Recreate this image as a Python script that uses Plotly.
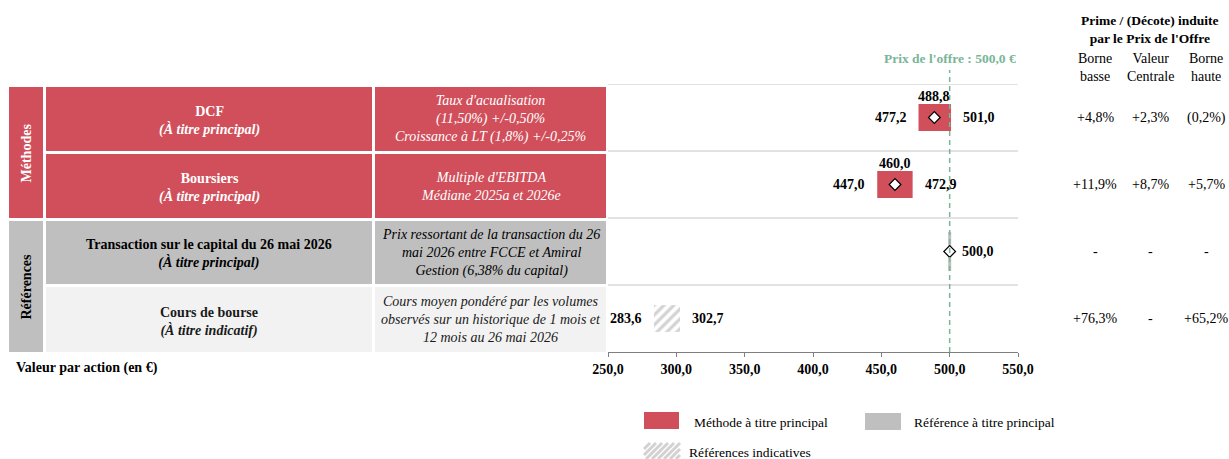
import plotly.graph_objects as go

# ---------------- data ----------------
row_titles = ["DCF", "Boursiers", "Transaction sur le capital du 26 mai 2026", "Cours de bourse"]
row_subtitles = ["(À titre principal)", "(À titre principal)", "(À titre principal)", "(À titre indicatif)"]
row_desc = [
    "Taux d'acualisation<br>(11,50%) +/-0,50%<br>Croissance à LT (1,8%) +/-0,25%",
    "Multiple d'EBITDA<br>Médiane 2025a et 2026e",
    "Prix ressortant de la transaction du 26<br>mai 2026 entre FCCE et Amiral<br>Gestion (6,38% du capital)",
    "Cours moyen pondéré par les volumes<br>observés sur un historique de 1 mois et<br>12 mois au 26 mai 2026",
]
low_vals = [477.2, 447.0, 500.0, 283.6]
mid_vals = [488.8, 460.0, 500.0, None]
high_vals = [501.0, 472.9, 500.0, 302.7]
offer_price = 500.0

prime_basse = ["+4,8%", "+11,9%", "-", "+76,3%"]
prime_centrale = ["+2,3%", "+8,7%", "-", "-"]
prime_haute = ["(0,2%)", "+5,7%", "-", "+65,2%"]

x_ticks = [250, 300, 350, 400, 450, 500, 550]

# ---------------- style ----------------
W, H = 1229, 459
RED = "#d04f5b"
GRAY = "#bfbfbf"
LIGHT = "#f2f2f2"
GREEN = "#7ab597"
FONT = "Liberation Serif"


def px(x):
    return x / W


def py(y):
    return 1 - y / H


def fmt(v):
    return f"{v:.1f}".replace(".", ",")


annotations = []
shapes = []


def ann(text, x, y, xref="paper", yref="paper", xanchor="center", yanchor="middle",
        size=14, color="black", **kw):
    annotations.append(dict(text=text, x=x, y=y, xref=xref, yref=yref, xanchor=xanchor,
                            yanchor=yanchor, showarrow=False,
                            font=dict(family=FONT, size=size, color=color), **kw))


rows = list(range(len(row_titles)))
fig = go.Figure()

# red bars (methods)
fig.add_trace(go.Bar(
    y=rows[:2], base=low_vals[:2],
    x=[h - l for h, l in zip(high_vals[:2], low_vals[:2])],
    orientation="h", width=0.4, marker=dict(color=RED, line=dict(width=0)),
    showlegend=False, hoverinfo="skip"))

# transaction (single value) shown as thin gray bar
fig.add_trace(go.Scatter(
    x=[low_vals[2]], y=[rows[2]], mode="markers",
    marker=dict(symbol="line-ns", size=28, line=dict(color=GRAY, width=3)),
    showlegend=False, hoverinfo="skip"))

# hatched bar (indicative)
fig.add_trace(go.Bar(
    y=[rows[3]], base=[low_vals[3]], x=[high_vals[3] - low_vals[3]],
    orientation="h", width=0.4,
    marker=dict(color="white", line=dict(width=0),
                pattern=dict(shape="/", fgcolor="#d2d2d2", bgcolor="white", size=7, solidity=0.45)),
    showlegend=False, hoverinfo="skip"))

# diamonds at central value
dy = [r for r, m in zip(rows, mid_vals) if m is not None]
dx = [m for m in mid_vals if m is not None]
fig.add_trace(go.Scatter(
    x=dx, y=dy, mode="markers",
    marker=dict(symbol="diamond", size=9, color="white", line=dict(color="black", width=1.2)),
    showlegend=False, hoverinfo="skip"))

# value labels
for r in rows:
    lo, mi, hi = low_vals[r], mid_vals[r], high_vals[r]
    if lo != hi:
        ann(f"<b>{fmt(lo)}</b>", lo, r, xref="x", yref="y", xanchor="right", xshift=-10)
    ann(f"<b>{fmt(hi)}</b>", hi, r, xref="x", yref="y", xanchor="left", xshift=10)
    if mi is not None and lo != hi:
        ann(f"<b>{fmt(mi)}</b>", mi, r - 0.2, xref="x", yref="y", yanchor="bottom", yshift=-2)

# horizontal separators in chart
for yb in [-0.5, 0.5, 1.5, 2.5]:
    shapes.append(dict(type="line", xref="x domain", yref="y", x0=0, x1=1, y0=yb, y1=yb,
                       line=dict(color="#d9d9d9", width=1.5), layer="below"))

# offer price dashed line
shapes.append(dict(type="line", xref="x", yref="paper", x0=offer_price, x1=offer_price,
                   y0=py(352), y1=py(70), line=dict(color=GREEN, width=1.5, dash="5px,4px")))
ann(f"<b>Prix de l'offre : {fmt(offer_price)} €</b>", px(1018), py(58),
    xanchor="right", size=13.5, color=GREEN)

# ---------------- left table ----------------
cell_rows = [(87, 151), (154, 218), (221, 284), (287, 352)]
cell_fill = [RED, RED, GRAY, LIGHT]
cell_txt = ["white", "white", "black", "#1a1a1a"]
for (y0, y1, fill, label, col) in [(87, 218, RED, "Méthodes", "white"),
                                     (221, 352, GRAY, "Références", "black")]:
    shapes.append(dict(type="rect", xref="paper", yref="paper", x0=px(9), x1=px(43),
                       y0=py(y1), y1=py(y0), fillcolor=fill, line=dict(width=0)))
    ann(f"<b>{label}</b>", px(26), py((y0 + y1) / 2), textangle=-90, color=col)
for r, (y0, y1) in enumerate(cell_rows):
    for (cx0, cx1) in [(46, 372), (375, 606)]:
        shapes.append(dict(type="rect", xref="paper", yref="paper", x0=px(cx0), x1=px(cx1),
                           y0=py(y1), y1=py(y0), fillcolor=cell_fill[r], line=dict(width=0)))
    ann(f"<b>{row_titles[r]}</b><br><b><i>{row_subtitles[r]}</i></b>", px(209),
        py((y0 + y1) / 2 + 2), align="center", color=cell_txt[r])
    ann(f"<i>{row_desc[r]}</i>", px(490.5), py((y0 + y1) / 2), align="center",
        color=cell_txt[r])

ann("<b>Valeur par action (en €)</b>", px(14), py(368), xanchor="left")

# ---------------- right table ----------------
ann("<b>Prime / (Décote) induite</b><br><b>par le Prix de l'Offre</b>", px(1150), py(30),
    size=13.5)
for cx, head, vals in [(1095, "Borne<br>basse", prime_basse),
                       (1150, "Valeur<br>Centrale", prime_centrale),
                       (1206, "Borne<br>haute", prime_haute)]:
    ann(head, px(cx), py(67.5))
    for r in rows:
        ann(vals[r], px(cx), r, yref="y")

# ---------------- legend ----------------
shapes.append(dict(type="rect", xref="paper", yref="paper", x0=px(644), x1=px(679),
                   y0=py(429), y1=py(412), fillcolor=RED, line=dict(width=0)))
shapes.append(dict(type="rect", xref="paper", yref="paper", x0=px(865), x1=px(901),
                   y0=py(430), y1=py(413), fillcolor=GRAY, line=dict(width=0)))
hx0, hx1, hy0, hy1 = 644, 680, 443, 459
hh = hy1 - hy0
k = hx0 - hh
while k < hx1:
    t0 = max(0, hx0 - k)
    t1 = min(hh, hx1 - k)
    if t1 > t0:
        shapes.append(dict(type="line", xref="paper", yref="paper",
                           x0=px(k + t0), y0=py(hy1 - t0), x1=px(k + t1), y1=py(hy1 - t1),
                           line=dict(color="#d2d2d2", width=3)))
    k += 6
for tx, ty, txt in [(692, 422, "Méthode à titre principal"),
                    (912, 422, "Référence à titre principal"),
                    (687, 452, "Références indicatives")]:
    ann(txt, px(tx), py(ty), xanchor="left", size=13.5)

fig.update_layout(
    width=W, height=H, template="none",
    margin=dict(l=0, r=0, t=0, b=0, pad=0),
    paper_bgcolor="white", plot_bgcolor="white",
    font=dict(family=FONT, color="black"),
    separators=", ",
    barmode="overlay",
    showlegend=False,
    xaxis=dict(domain=[px(608), px(1018)], range=[250, 550], tickvals=x_ticks,
               tickformat=".1f", showgrid=False, zeroline=False, showline=True,
               linecolor="#7f7f7f", linewidth=1, ticks="outside", ticklen=4,
               tickcolor="#7f7f7f",
               tickfont=dict(size=14, color="black", family=FONT, weight="bold"),
               automargin=False, fixedrange=True, ticklabelstandoff=0),
    yaxis=dict(domain=[py(352), py(84)], range=[3.5, -0.5], visible=False,
               automargin=False, fixedrange=True),
    shapes=shapes, annotations=annotations,
)

fig.write_html("out.html")
